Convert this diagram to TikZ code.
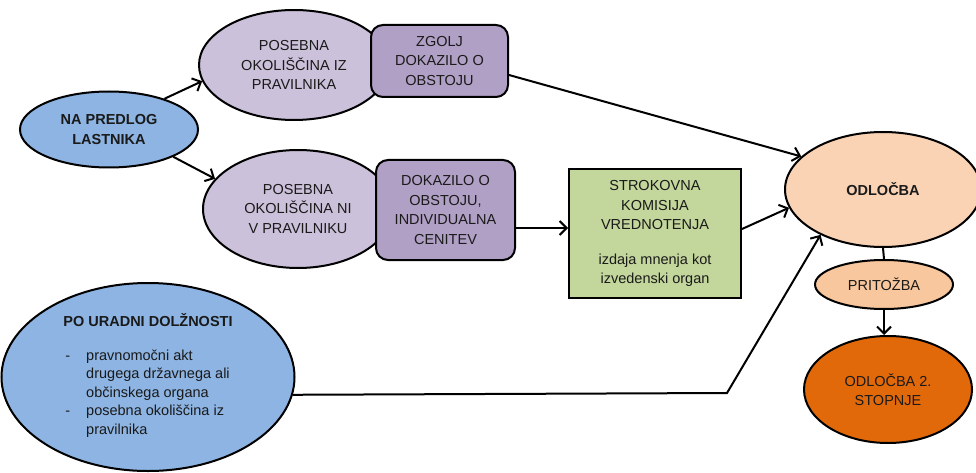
\documentclass[tikz,border=0pt]{standalone}
\usepackage{fontspec}
\setmainfont{Liberation Sans}
\usetikzlibrary{shapes.geometric,arrows.meta}
\definecolor{cblue}{HTML}{8DB4E2}
\definecolor{clpur}{HTML}{CCC1DA}
\definecolor{cdpur}{HTML}{B1A0C5}
\definecolor{cgreen}{HTML}{C3D69B}
\definecolor{cpeach}{HTML}{FAD3B5}
\definecolor{cpeach2}{HTML}{F9C79D}
\definecolor{corange}{HTML}{E2690A}
\definecolor{ctext}{HTML}{1A1A1A}
\begin{document}
\begin{tikzpicture}[x=1pt,y=-1pt,
  font=\fontsize{14.5}{19.5}\selectfont,
  every node/.style={text=ctext},
  ell/.style={ellipse,draw=black,line width=2pt,inner sep=0pt,align=center},
  rbox/.style={rectangle,rounded corners=12pt,draw=black,line width=2pt,inner sep=0pt,align=center,fill=cdpur},
  gbox/.style={rectangle,draw=black,line width=2pt,inner sep=0pt,align=center,fill=cgreen},
  arr/.style={line width=2pt,-{Straight Barb[length=7pt,width=14pt]}},
  conn/.style={line width=2pt}]
\useasboundingbox[fill=white] (0,0) rectangle (976,473);

\node[ell,fill=cblue,minimum width=178pt,minimum height=76pt] (na) at (109,129.5) {\textbf{NA PREDLOG}\\\textbf{LASTNIKA}};

\node[ell,fill=clpur,minimum width=190pt,minimum height=110pt] (p1) at (294,65) {POSEBNA\\OKOLIŠČINA IZ\\PRAVILNIKA};
\node[rbox,minimum width=137pt,minimum height=72pt] (zg) at (439.5,61) {ZGOLJ\\DOKAZILO O\\OBSTOJU};

\node[ell,fill=clpur,minimum width=190pt,minimum height=118pt] (p2) at (298,209) {POSEBNA\\OKOLIŠČINA NI\\V PRAVILNIKU};
\node[rbox,minimum width=139pt,minimum height=100pt] (dk) at (445.5,210) {DOKAZILO O\\OBSTOJU,\\INDIVIDUALNA\\CENITEV};

\node[gbox,minimum width=172pt,minimum height=129pt] (sk) at (655,233.5) {STROKOVNA\\KOMISIJA\\VREDNOTENJA\\[15pt]izdaja mnenja kot\\izvedenski organ};

\node[ell,fill=cblue,minimum width=293pt,minimum height=188pt] (po) at (148,377) {%
  \fontsize{14.5}{18.5}\selectfont
  \begin{tabular}{@{\hspace{2pt}}l@{\hspace{16pt}}l@{}}
  \multicolumn{2}{@{}l@{}}{\textbf{PO URADNI DOLŽNOSTI}}\\[15pt]
  - & pravnomočni akt\\
    & drugega državnega ali\\
    & občinskega organa\\
  - & posebna okoliščina iz\\
    & pravilnika
  \end{tabular}};

\node[ell,fill=cpeach,minimum width=196pt,minimum height=115pt] (od) at (883,189.5) {\textbf{ODLOČBA}};
\node[ell,fill=cpeach2,minimum width=138pt,minimum height=49pt] (pr) at (884,284.5) {PRITOŽBA};
\node[ell,fill=corange,minimum width=168pt,minimum height=107pt] (o2) at (888,389.5) {ODLOČBA 2.\\STOPNJE};

\coordinate (bend) at (727,393);

\draw[arr] (na.29) -- (p1.190);
\draw[arr] (na.337) -- (p2.160);
\draw[arr] ([yshift=-14pt]zg.east) -- (od.158.4);
\draw[arr] ([yshift=-18pt]dk.east) -- ([yshift=-18pt]dk.east -| sk.west);
\draw[arr] ([yshift=4.5pt]sk.east) -- (od.191.6);
\draw[arr] (po.353.7) -- (bend) -- (od.216.7);
\draw[conn] (od.south) -- (pr.north);
\draw[arr] (pr.south) -- (pr.south |- o2.north);
\end{tikzpicture}
\end{document}
